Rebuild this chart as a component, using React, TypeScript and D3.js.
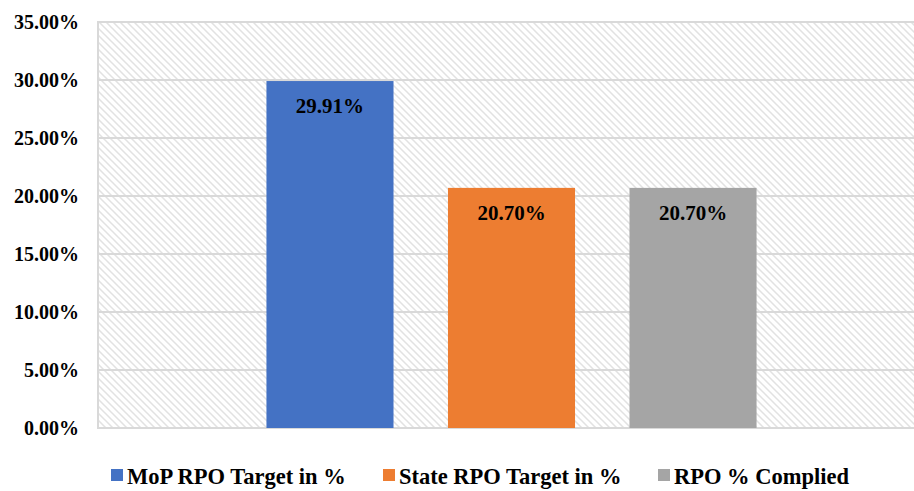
import React from "react";
import * as d3 from "d3";

const categories = ["MoP RPO Target in %", "State RPO Target in %", "RPO % Complied"];
const values = [0.2991, 0.207, 0.207];
const labels = ["29.91%", "20.70%", "20.70%"];
const colors = ["#4472C4", "#ED7D31", "#A5A5A5"];
const yTicks = [0, 0.05, 0.1, 0.15, 0.2, 0.25, 0.3, 0.35];

const W = 914, H = 491;
const left = 98, right = 925, top = 22, bottom = 428;
const FONT = "'Liberation Serif', 'Times New Roman', serif";

export default function App() {
  const y = d3.scaleLinear().domain([0, 0.35]).range([bottom, top]);
  const x = d3.scaleBand<string>().domain(categories).range([left, right]).paddingInner(0.3).paddingOuter(0.928);
  const fmt = d3.format(".2%");
  const legendX = [111, 383, 658];
  return (
    <svg width={W} height={H} style={{ position: "absolute", left: 0, top: 0, background: "#fff" }}>
      <defs>
        <pattern id="hatch" width={7} height={7} patternUnits="userSpaceOnUse">
          <rect width={7} height={7} fill="#fff" />
          <path d="M-1,-1 L8,8 M-1,6 L1,8 M6,-1 L8,1" stroke="#e2e2e2" strokeWidth={1.5} />
        </pattern>
      </defs>
      <rect x={left} y={top} width={right - left} height={bottom - top} fill="url(#hatch)" stroke="#d9d9d9" strokeWidth={2} />
      {yTicks.map((t) => (
        <g key={t}>
          <line x1={left} x2={right} y1={y(t)} y2={y(t)} stroke="#d9d9d9" strokeWidth={2} />
          <text x={79} y={y(t) + 7} textAnchor="end" fontFamily={FONT} fontWeight="bold" fontSize={20} fill="#000">
            {fmt(t)}
          </text>
        </g>
      ))}
      {categories.map((c, i) => (
        <g key={c}>
          <rect x={x(c)} y={y(values[i])} width={x.bandwidth()} height={bottom - y(values[i])} fill={colors[i]} />
          <text x={(x(c) as number) + x.bandwidth() / 2} y={y(values[i]) + 32} textAnchor="middle" fontFamily={FONT} fontWeight="bold" fontSize={21} fill="#000">
            {labels[i]}
          </text>
        </g>
      ))}
      {categories.map((c, i) => (
        <g key={"lg" + c}>
          <rect x={legendX[i]} y={469} width={12} height={12} fill={colors[i]} />
          <text x={legendX[i] + 16} y={484} fontFamily={FONT} fontWeight="bold" fontSize={22.5} fill="#000">
            {c}
          </text>
        </g>
      ))}
    </svg>
  );
}
